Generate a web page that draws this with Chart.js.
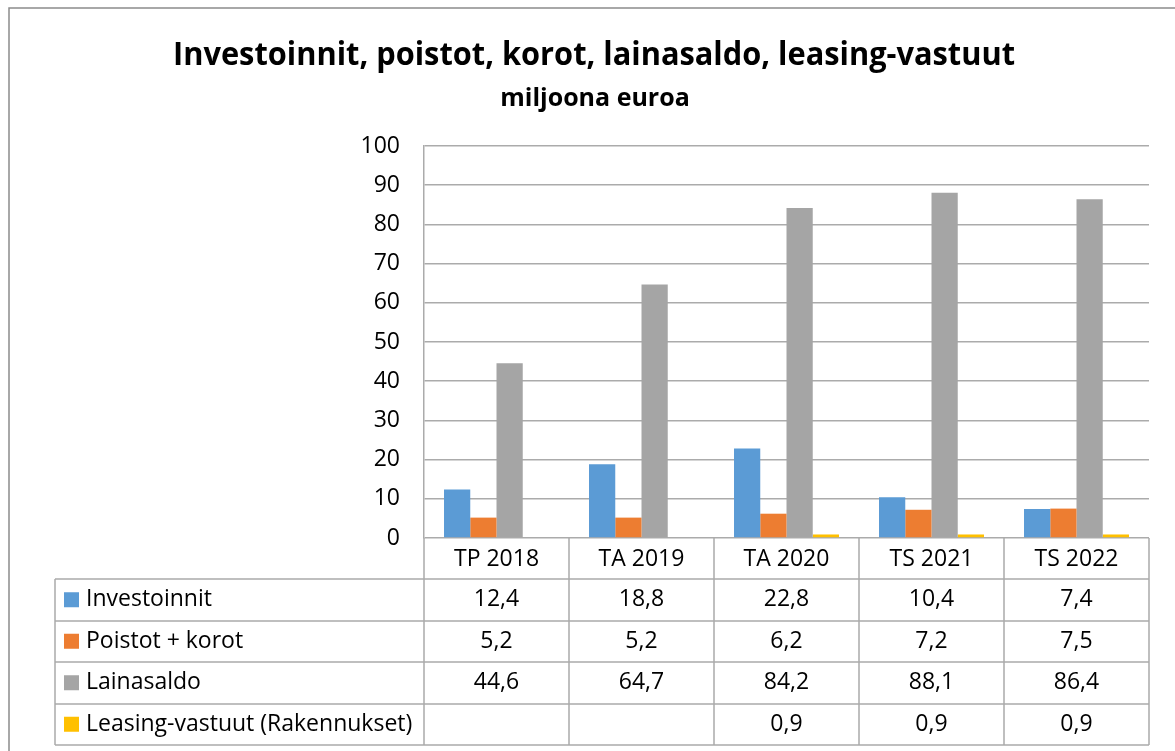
<!DOCTYPE html>
<html>
<head>
<meta charset="utf-8">
<script src="https://cdn.jsdelivr.net/npm/chart.js@4"></script>
<style>
  body { margin: 0; background: #fff; }
  canvas { display: block; }
</style>
</head>
<body>
<canvas id="investChart" width="1175" height="751"></canvas>
<script>
const categories = ['TP 2018', 'TA 2019', 'TA 2020', 'TS 2021', 'TS 2022'];
const investoinnit = [12.4, 18.8, 22.8, 10.4, 7.4];
const poistotKorot = [5.2, 5.2, 6.2, 7.2, 7.5];
const lainasaldo = [44.6, 64.7, 84.2, 88.1, 86.4];
const leasing = [null, null, 0.9, 0.9, 0.9];
const seriesNames = ['Investoinnit', 'Poistot + korot', 'Lainasaldo', 'Leasing-vastuut (Rakennukset)'];
const seriesColors = ['#5b9bd5', '#ed7d31', '#a5a5a5', '#ffc000'];
const yMin = 0, yMax = 100, yStep = 10;

const titleText = 'Investoinnit, poistot, korot, lainasaldo, leasing-vastuut';
const subtitleText = 'miljoona euroa';

const FONT = '"Open Sans", "DejaVu Sans", sans-serif';
const lineColor = '#ababab';

function fmt(v) {
    return v === null ? '' : v.toFixed(1).replace('.', ',');
}

// title, outer frame and the data table under the x axis
const tablePlugin = {
    id: 'dataTable',
    afterDraw(chart) {
        const ctx = chart.ctx;
        const x = chart.scales.x;
        const area = chart.chartArea;
        const catW = (area.right - area.left) / categories.length;
        const rowH = 41.5;
        const headerBottom = area.bottom + 41;
        const tableLeft = 55;
        const rows = [investoinnit, poistotKorot, lainasaldo, leasing];
        const tableBottom = headerBottom + rows.length * rowH;

        ctx.save();

        // outer frame
        ctx.strokeStyle = '#8c8c8c';
        ctx.lineWidth = 1.5;
        ctx.beginPath();
        ctx.moveTo(9, 760);
        ctx.lineTo(9, 8);
        ctx.lineTo(1180, 8);
        ctx.stroke();

        // title
        ctx.fillStyle = '#000';
        ctx.textAlign = 'center';
        ctx.textBaseline = 'alphabetic';
        ctx.font = 'bold 32px ' + FONT;
        ctx.fillText(titleText, 594, 65, 842);
        ctx.font = 'bold 25px ' + FONT;
        ctx.fillText(subtitleText, 595, 106, 204);

        // table grid
        ctx.strokeStyle = lineColor;
        ctx.lineWidth = 1.5;
        ctx.beginPath();
        for (let i = 0; i <= categories.length; i++) {
            const px = Math.round(area.left + i * catW);
            ctx.moveTo(px, area.bottom);
            ctx.lineTo(px, tableBottom);
        }
        ctx.moveTo(tableLeft, headerBottom);
        ctx.lineTo(tableLeft, tableBottom);
        for (let r = 0; r <= rows.length; r++) {
            const py = Math.round(headerBottom + r * rowH);
            ctx.moveTo(tableLeft, py);
            ctx.lineTo(area.right, py);
        }
        ctx.stroke();

        // header labels
        ctx.font = '23px ' + FONT;
        ctx.textBaseline = 'middle';
        ctx.textAlign = 'center';
        ctx.fillStyle = '#000';
        categories.forEach((c, i) => {
            ctx.fillText(c, x.getPixelForValue(i), area.bottom + 21);
        });

        // rows: legend key, series name, values
        rows.forEach((data, r) => {
            const cy = headerBottom + r * rowH + rowH / 2;
            ctx.fillStyle = seriesColors[r];
            ctx.fillRect(64, cy - 7.5, 15, 15);
            ctx.fillStyle = '#000';
            ctx.textAlign = 'left';
            ctx.fillText(seriesNames[r], 86, cy, 330);
            ctx.textAlign = 'center';
            data.forEach((v, i) => {
                ctx.fillText(fmt(v), x.getPixelForValue(i), cy);
            });
        });

        ctx.restore();
    }
};

const ctx = document.getElementById('investChart').getContext('2d');
const chart = new Chart(ctx, {
    type: 'bar',
    data: {
        labels: categories,
        datasets: [
            { label: seriesNames[0], data: investoinnit, backgroundColor: seriesColors[0] },
            { label: seriesNames[1], data: poistotKorot, backgroundColor: seriesColors[1] },
            { label: seriesNames[2], data: lainasaldo, backgroundColor: seriesColors[2] },
            { label: seriesNames[3], data: leasing, backgroundColor: seriesColors[3] }
        ]
    },
    options: {
        responsive: false,
        animation: false,
        devicePixelRatio: 1,
        layout: { padding: { top: 146, right: 26, bottom: 213, left: 0 } },
        datasets: {
            bar: { categoryPercentage: 0.724, barPercentage: 1.0 }
        },
        plugins: {
            legend: { display: false },
            tooltip: { enabled: false }
        },
        scales: {
            x: { display: false },
            y: {
                min: yMin,
                max: yMax,
                ticks: {
                    stepSize: yStep,
                    padding: 24,
                    color: '#000',
                    font: { family: FONT, size: 23 }
                },
                grid: { color: lineColor, lineWidth: 1.5, drawTicks: false },
                border: { display: true, color: lineColor, width: 1.5 },
                afterFit(scale) { scale.width = 424; }
            }
        }
    },
    plugins: [tablePlugin]
});
</script>
</body>
</html>
